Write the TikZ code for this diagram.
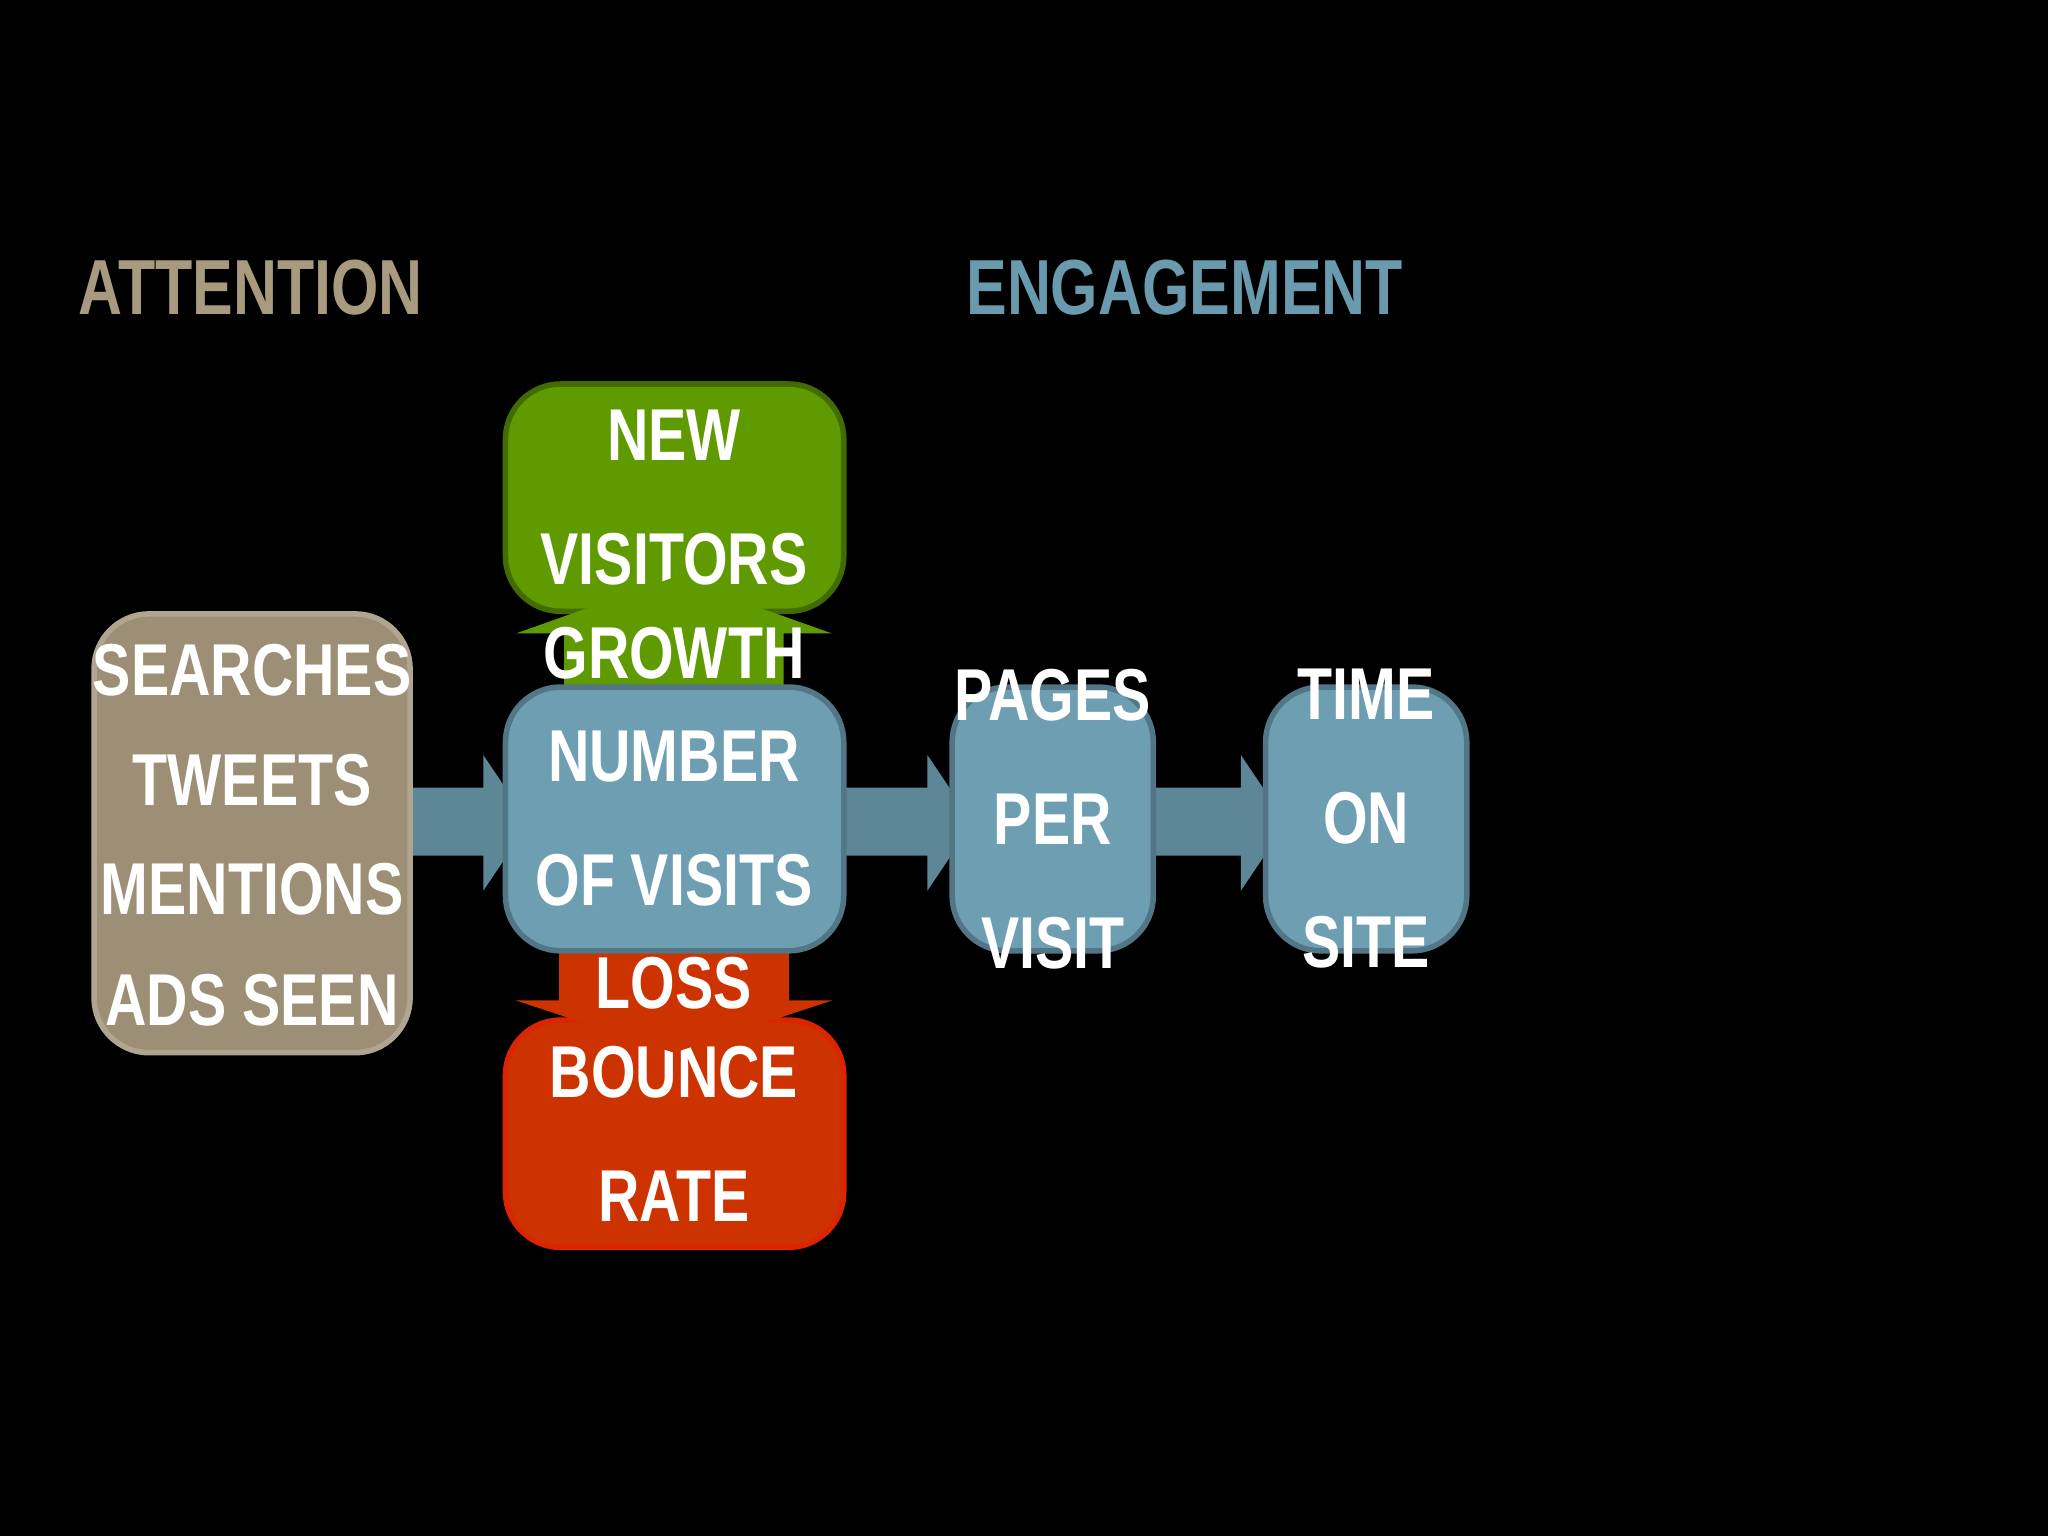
\documentclass[tikz,border=0pt]{standalone}
\usepackage{fontspec}
\setmainfont{Liberation Sans}[FakeStretch=0.78]
\definecolor{tan}{HTML}{9C8F76}
\definecolor{tanT}{HTML}{A89A7E}
\definecolor{bl}{HTML}{6E9EB1}
\definecolor{blT}{HTML}{6A9AAE}
\definecolor{gr}{HTML}{5F9A00}
\definecolor{rd}{HTML}{CC3300}
\begin{document}
\begin{tikzpicture}[x=0.01cm,y=-0.01cm,
  lbl/.style={font=\fontsize{16}{27}\selectfont\bfseries,text=white,align=center},
  box/.style={rounded corners=12pt,line width=1.2pt},
  arr/.style={fill=bl!85!black}]
\fill[black] (0,0) rectangle (1568,1176);
\useasboundingbox (0,0) rectangle (1568,1176);
\node[font=\fontsize{17}{20}\selectfont\bfseries,text=tanT] (att) at (192,220) {ATTENTION};
\node[font=\fontsize{17}{20}\selectfont\bfseries,text=blT] (eng) at (907,220) {ENGAGEMENT};
% arrows
\fill[arr] (300,603) -- (370,603) -- (370,578) -- (405,630) -- (370,682) -- (370,655) -- (300,655) -- cycle;
\fill[arr] (640,603) -- (710,603) -- (710,578) -- (745,630) -- (710,682) -- (710,655) -- (640,655) -- cycle;
\fill[arr] (878,603) -- (950,603) -- (950,578) -- (985,630) -- (950,682) -- (950,655) -- (878,655) -- cycle;
% boxes
\draw[box,fill=tan,draw=tan!80!white] (72,470) rectangle (314,806);
\node[lbl] (s1) at (193,513) {SEARCHES};
\node[lbl] (s2) at (193,597) {TWEETS};
\node[lbl] (s3) at (193,681) {MENTIONS};
\node[lbl] (s4) at (193,766) {ADS SEEN};
\draw[box,fill=gr,draw=gr!70!black] (387,294) rectangle (646,468);
\node[lbl] (nv) at (516,381) {NEW\\VISITORS};
\fill[gr] (432,530) -- (432,485) -- (395,485) -- (516,442) -- (637,485) -- (600,485) -- (600,530) -- cycle;
\node[lbl] (gw) at (516,500) {GROWTH};
\draw[box,fill=rd,draw=rd!70!red] (387,781) rectangle (646,955);
\node[lbl] (br) at (516,868) {BOUNCE\\RATE};
\fill[rd] (428,720) -- (604,720) -- (604,766) -- (637,766) -- (516,806) -- (395,766) -- (428,766) -- cycle;
\node[lbl] (ls) at (516,753) {LOSS};
\draw[box,fill=bl,draw=bl!75!black] (387,526) rectangle (646,728);
\node[lbl] (nov) at (516,627) {NUMBER\\OF VISITS};
\draw[box,fill=bl,draw=bl!75!black] (729,526) rectangle (883,728);
\node[lbl] (ppv) at (806,627) {PAGES\\PER\\VISIT};
\draw[box,fill=bl,draw=bl!75!black] (969,526) rectangle (1123,728);
\node[lbl] (tos) at (1046,627) {TIME\\ON\\SITE};
\end{tikzpicture}
\end{document}
